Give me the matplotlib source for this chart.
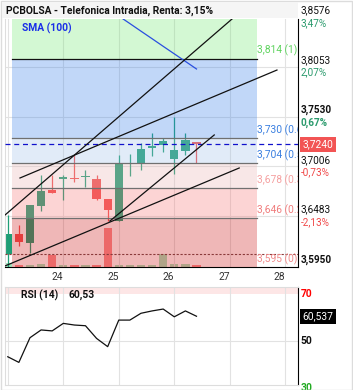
import matplotlib
matplotlib.use("Agg")
import matplotlib.pyplot as plt
from matplotlib.transforms import ScaledTranslation
from matplotlib.patches import Rectangle

plt.rcParams['font.family'] = ['Roboto', 'DejaVu Sans']

# candle times (days), OHLC
t = [23.0, 23.2, 23.4, 23.6, 23.8, 24.0, 24.2, 24.4, 24.6, 24.8,
     25.0, 25.2, 25.4, 25.6, 25.8, 26.0, 26.2, 26.4]
o = [3.6087, 3.6297, 3.6202, 3.6591, 3.6759, 3.6874, 3.6885, 3.6895, 3.6874, 3.6664,
     3.6433, 3.7032, 3.7042, 3.7203, 3.7231, 3.7084, 3.7168, 3.7263]
h = [3.6496, 3.6391, 3.6601, 3.6916, 3.6916, 3.6916, 3.7126, 3.6969, 3.6916, 3.6664,
     3.7126, 3.7137, 3.7252, 3.7358, 3.7305, 3.7526, 3.7358, 3.7263]
l = [3.5955, 3.6171, 3.6097, 3.6538, 3.6727, 3.6654, 3.6843, 3.6790, 3.6654, 3.6433,
     3.6433, 3.6906, 3.6969, 3.7116, 3.7158, 3.6927, 3.7126, 3.7042]
c = [3.6297, 3.6213, 3.6601, 3.6748, 3.6727, 3.6895, 3.6874, 3.6906, 3.6664, 3.6549,
     3.7042, 3.7046, 3.7189, 3.7224, 3.7273, 3.7179, 3.7284, 3.7240]
vol = [120, 75, 60, 90, 360, 75, 60, 60, 60, 1170, 75, 60, 60, 75, 390, 105, 90, 60]

sma_t = [25.0, 25.2, 25.4, 25.6, 25.8, 26.0, 26.2, 26.4]
sma = [3.8586, 3.8507, 3.8427, 3.8348, 3.8268, 3.8189, 3.8110, 3.8030]

rsi = [43.3, 40.9, 51.4, 54.7, 54.3, 57.5, 56.8, 56.5, 51.1, 47.6,
       58.9, 58.9, 61.8, 62.8, 63.6, 60.3, 62.8, 60.537]

fib_levels = [3.595, 3.646, 3.678, 3.704, 3.730, 3.814]
fib_ratios = ["0", "0.236", "0.382", "0.5", "0.618", "1"]
fib_start, fib_end = 23.08, 27.49

trend_lines = [
    ((22.95, 3.6496), (27.04, 3.8555)),
    ((23.22, 3.6885), (27.85, 3.8019)),
    ((22.95, 3.5961), (27.17, 3.6990)),
    ((24.84, 3.6433), (26.72, 3.7337)),
]

price_ticks = [3.8576, 3.8053, 3.7530, 3.7006, 3.6483, 3.5950]
pct_labels = ["3,47%", "2,07%", "0,67%", "-0,73%", "-2,13%", ""]
bold_ticks = [3.7530, 3.5950]
support = 3.6087
last_price = 3.7240
grid_days = [23, 24, 25, 26, 27, 28]
label_days = [24, 25, 26, 27, 28]

W, H = 353, 390


def rect(x0, y0, x1, y1):
    return [x0 / W, 1 - y1 / H, (x1 - x0) / W, (y1 - y0) / H]


def fmt(v, n=4):
    return f"{v:.{n}f}".replace(".", ",")


fig = plt.figure(figsize=(W / 100, H / 100), dpi=100)
fig.patches.append(Rectangle((0.5 / W, 0.5 / H), 1 - 1.5 / W, 1 - 1.5 / H,
                             transform=fig.transFigure, fill=False,
                             edgecolor="#dcdcdc", lw=1))
fig.patches.append(Rectangle((2 / W, 1 - 18 / H), 296 / W, 16 / H,
                             transform=fig.transFigure, color="#f5f5f5", lw=0))
fig.text(6 / W, 1 - 11 / H, "PCBOLSA - Telefonica Intradia, Renta: 3,15%",
         fontsize=7.4, fontweight="bold", va="center", ha="left", color="#111")

xlim = (22.95, 28.229)
ylim = (3.595, 3.8555)

ax = fig.add_axes(rect(5, 19, 298, 267))
axv = ax.twinx()
axv.set_zorder(ax.get_zorder() - 1)
ax.patch.set_visible(False)
ax.set_xlim(*xlim)
ax.set_ylim(*ylim)

# volume
vcol = ["#a4e4bc" if cc >= oo else "#fa9090" for oo, cc in zip(o, c)]
axv.bar(t, vol, width=0.15, color=vcol, lw=0)
axv.set_ylim(0, max(vol) * 6.36)
axv.axis("off")

# grid
for d in grid_days:
    ax.axvline(d, color="#e2e2e2", lw=0.8, zorder=0)
for p in price_ticks[:-1]:
    ax.axhline(p, color="#e2e2e2", lw=0.8, zorder=0)

# candles
up = "#1f9e76"
dn = "#f25050"
ccol = [up if cc >= oo else dn for oo, cc in zip(o, c)]
ax.vlines(t, l, h, colors=ccol, lw=0.9, zorder=2)
bottoms = [min(a, b) for a, b in zip(o, c)]
heights = [max(abs(b - a), 0.0015) for a, b in zip(o, c)]
ax.bar(t, heights, bottom=bottoms, width=0.15, color=ccol, lw=0, zorder=2)

# fibonacci zones
zone_cols = [(205, 18, 18), (248, 115, 115), (232, 178, 178),
             (158, 192, 232), (52, 125, 232), (112, 232, 112)]
bounds = fib_levels + [ylim[1]]
for i, col in enumerate(zone_cols):
    ax.fill_between([fib_start, fib_end], bounds[i], bounds[i + 1],
                    color=[v / 255 for v in col], alpha=0.3, lw=0, zorder=3)
for lv in fib_levels[1:-1]:
    ax.plot([fib_start, fib_end], [lv, lv], color="#707070", lw=0.9, zorder=4)
ax.plot([fib_start, fib_end], [fib_levels[-1]] * 2, color="#111", lw=0.9, zorder=4)

lab_cols = ["#f08a8a", "#f07c7c", "#f5a0a0", "#3a7fe0", "#3a7fe0", "#5fd35f"]
for lv, r, col in zip(fib_levels, fib_ratios, lab_cols):
    ax.annotate(f"{fmt(lv, 3)} ({r})", (fib_end, lv), xytext=(0, 1.5),
                textcoords="offset points", fontsize=7.4, color=col,
                ha="left", va="bottom", annotation_clip=False, clip_on=True, zorder=5)

# lines
ax.axhline(support, color="#8a3a3a", lw=0.8, ls=(0, (2, 1.5)), zorder=4)
ax.axhline(last_price, color="#1010cc", lw=0.9, ls=(0, (4, 3)), zorder=4)
ax.plot(sma_t, sma, color="#2a4fe0", lw=0.9, zorder=4)
for (d0, p0), (d1, p1) in trend_lines:
    ax.plot([d0, d1], [p0, p1], color="#111", lw=0.9, zorder=4)

ax.text(22.95 + 17 / 55.5, 3.8555 - 9 * 0.00105, "SMA (100)", fontsize=7.4,
        fontweight="bold", color="#1a2ee8", ha="left", va="center", zorder=6)

# axes styling
ax.spines["top"].set_visible(False)
ax.spines["left"].set_color("#dddddd")
ax.spines["right"].set_color("#000")
ax.spines["bottom"].set_color("#000")
ax.set_yticks([])
ax.set_xticks(label_days)
ax.set_xticklabels([str(d) for d in label_days])
ax.tick_params(axis="x", length=0, pad=3.5, labelsize=7.4, labelcolor="#333")
off = ScaledTranslation(-6 / 100, 0, fig.dpi_scale_trans)
for lab in ax.get_xticklabels():
    lab.set_transform(lab.get_transform() + off)

# right price labels
yax = ax.get_yaxis_transform()
for p, pct in zip(price_ticks, pct_labels):
    wt = "bold" if p in bold_ticks else "normal"
    ax.annotate(fmt(p), (1, p), xycoords=yax, xytext=(2, 1.2), textcoords="offset points",
                fontsize=7.2, fontweight=wt, color="#111", ha="left", va="bottom",
                annotation_clip=False)
    if pct:
        pc = "#2a9a6c" if not pct.startswith("-") else "#f04848"
        ax.annotate(pct, (1, p), xycoords=yax, xytext=(2, -0.6), textcoords="offset points",
                    fontsize=7.2, fontweight=wt, color=pc, ha="left", va="top",
                    annotation_clip=False)
ax.annotate(fmt(last_price), (1, last_price), xycoords=yax, xytext=(3, 0),
            textcoords="offset points", fontsize=7.4, color="white", ha="left",
            va="center", annotation_clip=False,
            bbox=dict(boxstyle="square,pad=0.25", fc="#f25454", ec="none"))

# RSI panel
ar = fig.add_axes(rect(5, 287, 298, 385))
ar.set_xlim(*xlim)
ar.set_ylim(31.28, 72.98)
ar.axhspan(70, 72.98, color="#fde6e6", lw=0, zorder=0)
for d in grid_days:
    ar.axvline(d, color="#e2e2e2", lw=0.8, zorder=0)
ar.axhline(50, color="#e2e2e2", lw=0.8, zorder=0)
ar.plot(t, rsi, color="#111", lw=0.9, zorder=3)
ar.set_xticks([])
ar.set_yticks([])
for s in ["top", "left", "bottom"]:
    ar.spines[s].set_color("#dddddd")
ar.spines["right"].set_color("#000")
rsi_short = f"{int(rsi[-1] * 100) / 100:.2f}".replace(".", ",")
ar.text(22.95 + 16 / 55.5, 72.98 - 8 / 2.35, "RSI (14)", fontsize=7.4,
        fontweight="bold", color="#111", ha="left", va="center")
ar.text(22.95 + 63 / 55.5, 72.98 - 8 / 2.35, rsi_short, fontsize=7.4,
        fontweight="bold", color="#111", ha="left", va="center")
ryax = ar.get_yaxis_transform()
for v, col in [(70, "#ff0000"), (50, "#111"), (30, "#22aa22")]:
    ar.annotate(str(v), (1, v), xycoords=ryax, xytext=(2, 0), textcoords="offset points",
                fontsize=7.4, fontweight="bold", color=col, ha="left", va="center",
                annotation_clip=False)
ar.annotate(fmt(rsi[-1], 3), (1, rsi[-1]), xycoords=ryax, xytext=(3, 0),
            textcoords="offset points", fontsize=7.4, color="white", ha="left",
            va="center", annotation_clip=False,
            bbox=dict(boxstyle="square,pad=0.25", fc="#000", ec="none"))

fig.savefig("out.png", dpi=100)
